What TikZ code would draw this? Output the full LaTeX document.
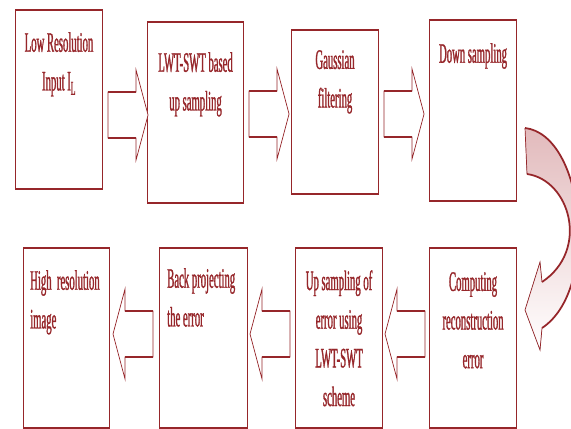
\documentclass[tikz,border=0pt]{standalone}
\usepackage{fontspec}
\newfontfamily\condfont[FakeStretch=0.38, FakeBold=1]{Liberation Serif}
\usetikzlibrary{positioning,calc}

\definecolor{boxred}{RGB}{150,38,42}
\definecolor{fadepink}{RGB}{226,186,188}
\def\px{0.03cm}

\tikzset{
  stage/.style={draw=boxred, line width=0.9pt, anchor=north west, inner sep=0pt},
  rim/.style={draw=boxred, line width=2.4pt},
  thinrim/.style={draw=boxred, line width=1.4pt},
  caption/.style={font=\condfont\fontsize{24}{33}\selectfont, text=boxred, align=center, inner sep=0pt},
  blockline/.style={draw=boxred, fill=white, line width=0.6pt, line join=miter},
  shaftline/.style={draw=boxred, line width=2.2pt},
  rblock/.pic={
    \draw[blockline] (0,-23) -- (28,-23) -- (28,-45) -- (40,0) -- (28,45) -- (28,23) -- (0,23) -- cycle;
    \draw[shaftline] (0,-23) -- (28,-23) (0,23) -- (28,23);
  },
  lblock/.pic={
    \draw[blockline] (0,-23) -- (-28,-23) -- (-28,-45) -- (-40,0) -- (-28,45) -- (-28,23) -- (0,23) -- cycle;
    \draw[shaftline] (0,-23) -- (-28,-23) (0,23) -- (-28,23);
  }
}

\begin{document}
\begin{tikzpicture}[x=0.03cm, y=-0.03cm]
  \useasboundingbox (0,0) rectangle (571,428);
  \clip (0,0) rectangle (571,428);

  % Top row: forward path
  \node[stage, minimum width=87*\px, minimum height=178*\px] (b1) at (15,10) {};
  \node[stage, minimum width=96*\px, minimum height=180*\px] (b2) at (147,22) {};
  \node[stage, minimum width=87*\px, minimum height=163*\px] (b3) at (291,30) {};
  \node[stage, minimum width=87*\px, minimum height=180*\px] (b4) at (429,20) {};

  % Bottom row: error path
  \node[stage, minimum width=86*\px, minimum height=179*\px] (b5) at (23,248) {};
  \node[stage, minimum width=88*\px, minimum height=179*\px] (b6) at (159,248) {};
  \node[stage, minimum width=87*\px, minimum height=179*\px] (b7) at (295,248) {};
  \node[stage, minimum width=87*\px, minimum height=179*\px] (b8) at (429,248) {};

  % Heavier top and bottom edges
  \foreach \n in {b1,b2,b4}
    \draw[rim] (\n.north west) -- (\n.north east) (\n.south west) -- (\n.south east);
  \foreach \n in {b3,b5,b6,b7,b8}
    \draw[thinrim] (\n.north west) -- (\n.north east) (\n.south west) -- (\n.south east);

  % Box texts
  \node[caption, below=0.66cm of b1.north] (t1) {Low Resolution\\Input I\textsubscript{L}};
  \node[caption, below=0.9cm of b2.north] (t2) {LWT-SWT based\\up sampling};
  \node[caption, below=0.6cm of b3.north] (t3) {Gaussian\\filtering};
  \node[caption, below=0.69cm of b4.north] (t4) {Down sampling};
  \node[caption, align=left, anchor=north west] (t5) at ($(b5.north west)+(7,22)$) {High\ \ resolution\\image};
  \node[caption, align=left, anchor=north west] (t6) at ($(b6.north west)+(8,20)$) {Back projecting\\the error};
  \node[caption, below=0.66cm of b7.north] (t7) {Up sampling of\\error using\\LWT-SWT\\scheme};
  \node[caption, below=0.72cm of b8.north] (t8) {Computing\\reconstruction\\error};

  % Block arrows between stages
  \pic (a1) at ($(b1.east |- 0,115)+(5,0)$) {rblock};
  \pic (a2) at ($(b2.east |- 0,114)+(5,0)$) {rblock};
  \pic (a3) at ($(b3.east |- 0,114)+(5,0)$) {rblock};
  \pic (a4) at ($(b8.west |- 0,334)+(-4,0)$) {lblock};
  \pic (a5) at ($(b7.west |- 0,334)+(-5,0)$) {lblock};
  \pic (a6) at ($(b6.west |- 0,334)+(-6,0)$) {lblock};

  % Curved arrow from the top row down to the bottom row
  \coordinate (tailo) at (525,128);
  \coordinate (taili) at (527,174);
  \coordinate (heado) at (542,328);
  \coordinate (headi) at (542,282);
  \coordinate (wingl) at (540,350);
  \coordinate (wingu) at (540,262);
  \coordinate (tip) at (525,310);
  \fill[top color=fadepink, middle color=white, bottom color=white]
    (tailo) .. controls (585,135) and (600,290) .. (heado) -- (wingl) -- (tip) -- (wingu)
    -- (headi) .. controls (590,250) and (570,180) .. (taili) -- cycle;
  \draw[boxred, line width=0.6pt, line join=miter]
    (tailo) -- (taili) (heado) -- (wingl) -- (tip) -- (wingu) -- (headi);
  \draw[boxred, line width=1.5pt]
    (tailo) .. controls (585,135) and (600,290) .. (heado)
    (headi) .. controls (590,250) and (570,180) .. (taili);
\end{tikzpicture}
\end{document}
